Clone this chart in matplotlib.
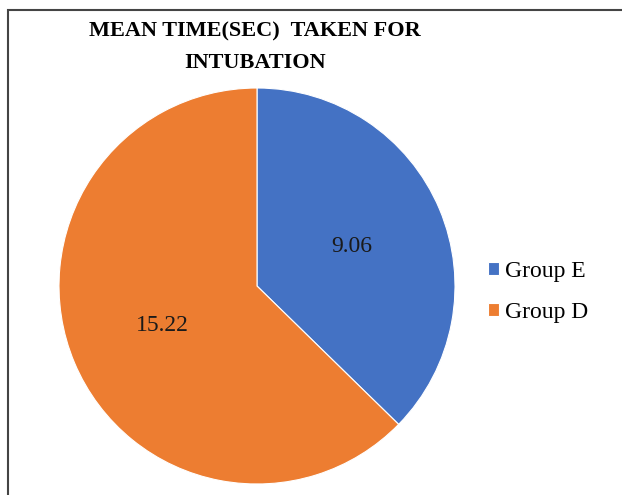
import matplotlib
matplotlib.use("Agg")
import matplotlib.pyplot as plt
from matplotlib.patches import Rectangle

groups = ["Group E", "Group D"]
mean_times = [9.06, 15.22]
colors = ["#4472C4", "#ED7D31"]

W, H = 622, 495
fig = plt.figure(figsize=(W/100, H/100), dpi=100)
plt.rcParams['font.family'] = ['Liberation Serif', 'DejaVu Serif']

# chart frame (cut off at the right and bottom)
fig.patches.append(Rectangle((8/W, -0.1), 1.2, 1.1 - 10/H, transform=fig.transFigure,
                             fill=False, edgecolor="#444444", linewidth=1.5))

cx, cy, r = 257, 286, 198
ax = fig.add_axes([(cx - r)/W, (H - cy - r)/H, 2*r/W, 2*r/H])
total = sum(mean_times)
wedges, texts, autotexts = ax.pie(mean_times, colors=colors, startangle=90, counterclock=False,
                                  autopct=lambda p: f"{p*total/100:.2f}", pctdistance=0.52,
                                  wedgeprops=dict(edgecolor="white", linewidth=0.8),
                                  textprops=dict(fontsize=17, color="#1a1a1a"))
ax.set_xlim(-1, 1)
ax.set_ylim(-1, 1)
ax.set_aspect("equal")

fig.text(255/W, 1 - 31/H, "MEAN TIME(SEC)  TAKEN FOR", ha="center", va="center",
         fontsize=16, fontweight="bold")
fig.text(255/W, 1 - 63/H, "INTUBATION", ha="center", va="center",
         fontsize=16, fontweight="bold")

fig.legend(wedges, groups, loc="center left", bbox_to_anchor=(488/W, 1 - 292/H),
           frameon=False, fontsize=17, handlelength=0.47, handleheight=0.47,
           handletextpad=0.25, labelspacing=0.85, borderpad=0, borderaxespad=0)

fig.savefig("out.png", dpi=100)
